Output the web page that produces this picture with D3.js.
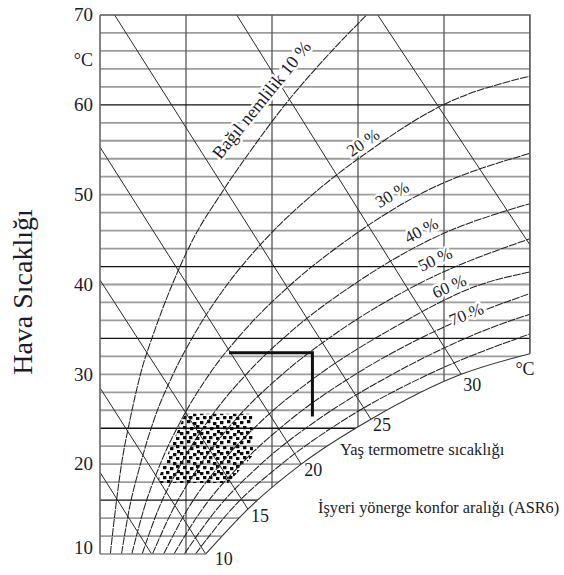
<!DOCTYPE html>
<html><head><meta charset="utf-8">
<script src="https://cdn.jsdelivr.net/npm/d3@7"></script>
<style>
body{margin:0;background:#fff;}
svg{display:block;font-family:"Liberation Serif","Times New Roman",serif;}
</style></head><body>
<svg id="chart" width="564" height="575"></svg>
<script>
// ---- data (vapour pressure e in kPa, air temperature T in °C) ----
const yTickValues = [10, 20, 30, 40, 50, 60, 70];
const gridTemps = [12,14,16,18,20,22,24,26,28,30,32,34,36,38,40,42,44,46,48,50,52,54,56,58,60,62,64,66,68];
const darkTemps = [16, 24, 34, 42, 60];
const vpLines = [1, 2, 3, 4, 5];

const rh10 = [[0.12,10],[0.18,15],[0.25,20],[0.35,25],[0.47,30],[0.64,35],[0.84,40],[1.08,45],[1.40,50],[1.76,55],[2.15,60],[2.60,65],[3.10,70]];
const rh20 = [[0.25,10],[0.34,15],[0.47,20],[0.63,25],[0.85,30],[1.13,35],[1.48,40],[1.92,45],[2.47,50],[3.15,55],[3.99,60],[5.0,63.2]];
const rh30 = [[0.37,10],[0.51,15],[0.70,20],[0.95,25],[1.27,30],[1.69,35],[2.22,40],[2.88,45],[3.71,50],[5.0,54.6]];
const rh40 = [[0.49,10],[0.68,15],[0.94,20],[1.27,25],[1.70,30],[2.25,35],[2.95,40],[3.84,45],[5.0,49.0]];
const rh50 = [[0.61,10],[0.85,15],[1.17,20],[1.58,25],[2.12,30],[2.81,35],[3.69,40],[5.0,45.1]];
const rh60 = [[0.74,10],[1.02,15],[1.40,20],[1.90,25],[2.55,30],[3.38,35],[4.43,40],[5.0,41.4]];
const rh70 = [[0.86,10],[1.19,15],[1.64,20],[2.22,25],[2.97,30],[3.94,35],[5.0,39.0]];
const rh80 = [[0.98,10],[1.36,15],[1.87,20],[2.54,25],[3.40,30],[4.50,35],[5.0,36.7]];
const rh90 = [[1.11,10],[1.53,15],[2.11,20],[2.85,25],[3.82,30],[5.0,34.5]];
const saturation = [[1.23,10],[1.72,15],[2.34,20],[3.15,25],[4.20,30],[5.0,32.3]];

const wb5  = [[0,19.1],[0.60,10]];
const wb10 = [[0,28.5],[1.23,10]];
const wb15 = [[0,40.5],[1.72,15]];
const wb20 = [[0,55.3],[2.34,20]];
const wb25 = [[0.17,70],[3.15,25]];
const wb30 = [[1.59,70],[4.20,30]];
const wb35 = [[3.23,70],[5.0,44.4]];
const wbLabelNames = ["10","15","20","25","30"];

const comfortZone = [[0.66,17.9],[0.81,21.7],[0.99,25.6],[1.77,25.6],[1.78,21.0],[1.49,17.9]];
const marker = [[1.50,32.4],[2.47,32.4],[2.47,25.3]];

const rhLabels = ["Bağıl nemlilik  10 %","20 %","30 %","40 %","50 %","60 %","70 %"];

// ---- drawing ----
const svg = d3.select("#chart");
const x = d3.scaleLinear().domain([0, 5]).range([100, 530]);
const y = d3.scaleLinear().domain([10, 70]).range([554, 15]);
const ink = "#1b1b2e";

const line = d3.line().x(d => x(d[0])).y(d => y(d[1]));
const curve = d3.line().x(d => x(d[0])).y(d => y(d[1])).curve(d3.curveMonotoneX);

const defs = svg.append("defs");
const satPath = curve(saturation).replace(/^M/, "L");
const clipD = `M${x(0)},${y(10)}` + satPath + `L${x(5)},${y(70)}L${x(0)},${y(70)}Z`;
defs.append("clipPath").attr("id", "region").append("path").attr("d", clipD);

const pat = defs.append("pattern").attr("id", "stipple")
  .attr("patternUnits", "userSpaceOnUse").attr("width", 20).attr("height", 20);
[[0,1],[7,0],[13,2],[3,6],[10,7],[16,5],[0,12],[6,11],[13,13],[17,10],[3,16],[9,16],[16,17]]
  .forEach(p => pat.append("rect").attr("x", p[0]).attr("y", p[1]).attr("width", 3.4).attr("height", 3.2).attr("fill", "#0c0c0c"));

const g = svg.append("g").attr("clip-path", "url(#region)");

g.selectAll("line.hg").data(gridTemps.filter(t => !darkTemps.includes(t))).join("line")
  .attr("x1", x(0)).attr("x2", x(5)).attr("y1", d => y(d)).attr("y2", d => y(d))
  .attr("stroke", "#9c9c9c").attr("stroke-width", 1.8);
g.selectAll("line.vg").data(vpLines).join("line")
  .attr("x1", d => x(d)).attr("x2", d => x(d)).attr("y1", y(70)).attr("y2", y(10))
  .attr("stroke", "#555").attr("stroke-width", 1.3);
g.selectAll("line.dg").data(darkTemps).join("line")
  .attr("x1", x(0)).attr("x2", x(5)).attr("y1", d => y(d)).attr("y2", d => y(d))
  .attr("stroke", "#111").attr("stroke-width", 1.3);

g.append("path").attr("d", line(comfortZone) + "Z").attr("fill", "url(#stipple)");

[wb5, wb10, wb15, wb20, wb25, wb30, wb35].forEach(w =>
  g.append("path").attr("d", line(w)).attr("fill", "none").attr("stroke", "#2a2a2a").attr("stroke-width", 1));

[rh10, rh20, rh30, rh40, rh50, rh60, rh70, rh80, rh90].forEach(c =>
  g.append("path").attr("d", curve(c)).attr("fill", "none").attr("stroke", "#222")
    .attr("stroke-width", 1.05).attr("stroke-dasharray", "8,1"));

svg.append("path").attr("d", curve(saturation)).attr("fill", "none").attr("stroke", "#333").attr("stroke-width", 1.1);
svg.append("path")
  .attr("d", `M${x(5)},${y(saturation[saturation.length-1][1])}L${x(5)},${y(70)}L${x(0)},${y(70)}`)
  .attr("fill", "none").attr("stroke", "#555").attr("stroke-width", 1.5);
svg.append("line").attr("x1", x(0)).attr("x2", x(0)).attr("y1", y(70)).attr("y2", y(10))
  .attr("stroke", "#666").attr("stroke-width", 1.6);
svg.append("line").attr("x1", x(0)).attr("x2", x(saturation[0][0])).attr("y1", y(10)).attr("y2", y(10))
  .attr("stroke", "#888").attr("stroke-width", 1.6);

svg.append("path").attr("d", line(marker)).attr("fill", "none").attr("stroke", "#111").attr("stroke-width", 3);

const axis = svg.append("g").attr("transform", `translate(${x(0)},0)`)
  .call(d3.axisLeft(y).tickValues(yTickValues).tickSize(0).tickPadding(7));
axis.select(".domain").remove();
axis.selectAll("text").attr("font-family", "Liberation Serif").attr("font-size", 19).attr("fill", ink)
  .attr("dy", d => d === 10 ? "-0.05em" : "0.3em");

svg.append("text").attr("x", 93).attr("y", 66).attr("text-anchor", "end")
  .attr("font-size", 18).attr("fill", ink).text("°C");

svg.append("text").attr("transform", "translate(32,292) rotate(-90)").attr("text-anchor", "middle")
  .attr("font-size", 28).attr("fill", ink).text("Hava Sıcaklığı");

const rhPos = [[263,101,-51],[364,144,-35],[393,196,-30],[422,232,-28],[436,261,-25],[450,288,-24],[467,316,-22]];
rhLabels.forEach((t, i) => {
  svg.append("text").attr("transform", `translate(${rhPos[i][0]},${rhPos[i][1]}) rotate(${rhPos[i][2]})`)
    .attr("text-anchor", "middle").attr("dominant-baseline", "middle")
    .attr("font-size", i === 0 ? 18 : 17).attr("fill", ink)
    .attr("stroke", "#fff").attr("stroke-width", 5).attr("paint-order", "stroke").attr("stroke-linejoin", "round")
    .text(t);
});

const wbEnds = [wb10, wb15, wb20, wb25, wb30];
const wbOff = [[18,7],[12,9],[12,8],[11,8],[11,13]];
wbEnds.forEach((w, i) => {
  svg.append("text").attr("x", x(w[1][0]) + wbOff[i][0]).attr("y", y(w[1][1]) + wbOff[i][1])
    .attr("text-anchor", "middle").attr("dominant-baseline", "middle")
    .attr("font-size", 18).attr("fill", ink).text(wbLabelNames[i]);
});
svg.append("text").attr("x", 525).attr("y", 371).attr("text-anchor", "middle").attr("dominant-baseline", "middle")
  .attr("font-size", 18).attr("fill", ink).text("°C");

svg.append("text").attr("x", 340).attr("y", 455).attr("font-size", 16.5).attr("fill", ink).text("Yaş termometre sıcaklığı");
svg.append("text").attr("x", 318).attr("y", 513).attr("font-size", 16.3).attr("fill", ink).text("İşyeri yönerge konfor aralığı (ASR6)");
</script>
</body></html>
